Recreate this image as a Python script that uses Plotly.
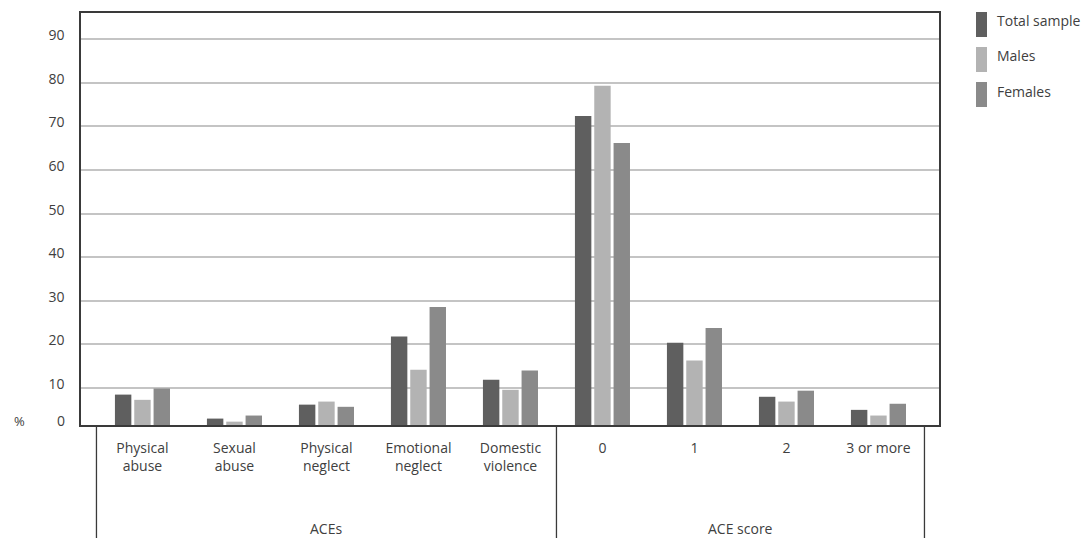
import plotly.graph_objects as go

categories = ["Physical<br>abuse", "Sexual<br>abuse", "Physical<br>neglect", "Emotional<br>neglect",
              "Domestic<br>violence", "0", "1", "2", "3 or more"]
series_names = ["Total sample", "Males", "Females"]
total_sample = [8.5, 3.0, 6.2, 21.8, 11.9, 72.4, 20.4, 8.0, 5.0]
males = [7.3, 2.3, 6.9, 14.2, 9.6, 79.3, 16.3, 6.9, 3.7]
females = [9.9, 3.7, 5.7, 28.6, 14.0, 66.2, 23.8, 9.4, 6.4]
group_labels = ["ACEs", "ACE score"]
y_ticks = [10, 20, 30, 40, 50, 60, 70, 80, 90]

colors = ["#5f5f5f", "#b3b3b3", "#8a8a8a"]
FONT = "Open Sans"
TXT = "#404040"
FS = 14

# the page body has an 8px margin; plot area expressed in page pixels
PL, PT, PW, PH = 81, 13, 858, 412


def px(xpage):
    return (xpage - PL) / PW


def py(ypage):
    return 1 - (ypage - PT) / PH


fig = go.Figure()
for name, vals, c in zip(series_names, [total_sample, males, females], colors):
    fig.add_trace(go.Bar(x=list(range(len(categories))), y=vals, name=name,
                         marker=dict(color=c, line=dict(width=0)), showlegend=False))

fig.update_layout(
    width=1081, height=530,
    margin=dict(l=PL - 8, r=1081 - (PL - 8) - PW, t=PT - 8, b=530 - (PT - 8) - PH, autoexpand=False),
    paper_bgcolor="white", plot_bgcolor="white",
    barmode="group", bargap=0.37, bargroupgap=0.15,
    font=dict(family=FONT, color=TXT, size=FS),
)
fig.update_xaxes(
    range=[-0.668, 8.658], tickvals=list(range(len(categories))), ticktext=categories,
    showgrid=False, showline=True, linecolor="#3a3a3a", linewidth=1.5, mirror=True,
    ticks="outside", ticklen=9, tickcolor="rgba(0,0,0,0)",
    tickfont=dict(family=FONT, size=FS, color=TXT), zeroline=False, automargin=False,
)
fig.update_yaxes(
    range=[1.53, 96], tickvals=y_ticks, ticktext=[str(v) for v in y_ticks],
    showgrid=True, gridcolor="#c4c4c4", gridwidth=1.5,
    showline=True, linecolor="#3a3a3a", linewidth=1.5, mirror=True,
    ticks="outside", ticklen=12, tickcolor="rgba(0,0,0,0)", ticklabelshift=-4,
    tickfont=dict(family=FONT, size=FS, color=TXT), zeroline=False, automargin=False,
)

# group separators below the axis
for xv in [-0.5, 4.5, 8.5]:
    fig.add_shape(type="line", xref="x", yref="paper", x0=xv, x1=xv, y0=0, y1=py(545),
                  line=dict(color="#3a3a3a", width=1.3))
fig.add_annotation(x=2, xref="x", y=py(528), yref="paper", text=group_labels[0],
                   showarrow=False, font=dict(family=FONT, size=FS, color=TXT), yanchor="middle")
fig.add_annotation(x=6.5, xref="x", y=py(528), yref="paper", text=group_labels[1],
                   showarrow=False, font=dict(family=FONT, size=FS, color=TXT), yanchor="middle")

# "0" and "%" labels
fig.add_annotation(x=px(67), xref="paper", xanchor="right", y=py(420), yref="paper", yanchor="middle",
                   text="0", showarrow=False, font=dict(family=FONT, size=FS, color=TXT))
fig.add_annotation(x=px(19), xref="paper", xanchor="center", y=py(421), yref="paper", yanchor="middle",
                   text="%", showarrow=False, font=dict(family=FONT, size=13, color=TXT))

# manual legend
for i, (name, c) in enumerate(zip(series_names, colors)):
    ytop = 12 + 35 * i
    fig.add_shape(type="rect", xref="paper", yref="paper",
                  x0=px(976), x1=px(987), y0=py(ytop), y1=py(ytop + 25),
                  fillcolor=c, line=dict(width=0))
    fig.add_annotation(x=px(995), xref="paper", xanchor="left",
                       y=py(ytop + 9), yref="paper", yanchor="middle",
                       text=name, showarrow=False, font=dict(family=FONT, size=FS, color=TXT))

fig.write_html("out.html")
